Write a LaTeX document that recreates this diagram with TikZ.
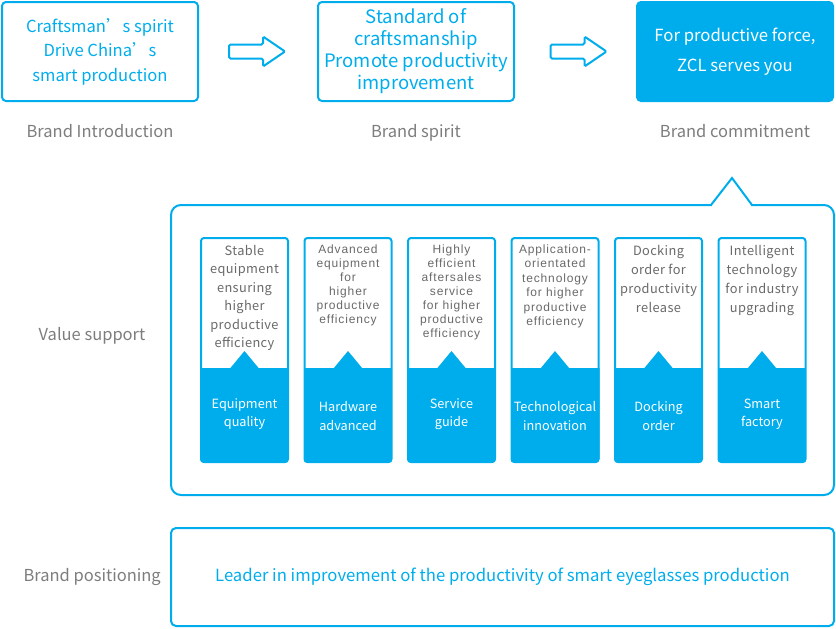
\documentclass[tikz,border=0pt]{standalone}
\usepackage{fontspec}
\setmainfont{Noto Sans CJK SC}
\newfontfamily\cardfont[LetterSpace=7]{Liberation Sans}
\newfontfamily\cardwide[LetterSpace=3]{Noto Sans CJK SC}
\usetikzlibrary{positioning,calc}
\definecolor{zcl}{RGB}{0,173,236}
\definecolor{capgray}{RGB}{125,125,125}
\definecolor{cardgray}{RGB}{105,105,105}
\tikzset{
    hollowarrow/.pic={\draw[zcl, line width=2pt, rounded corners=1.5pt] (-28,-7) -- (6,-7) -- (6,-15) -- (28,0) -- (6,15) -- (6,7) -- (-28,7) -- cycle;}
}
\begin{document}
\begin{tikzpicture}[x=1pt, y=-1pt,
    topbox/.style = {draw=zcl, line width=2pt, rounded corners=4pt, minimum width=196pt, minimum height=99pt, inner sep=0pt, align=center, text=zcl},
    caption/.style = {text=capgray, inner sep=0pt, font=\fontsize{16.5}{20}\selectfont},
    frame/.style = {draw=zcl, line width=2pt, minimum width=663pt, inner sep=0pt},
    card/.style = {draw=zcl, line width=2pt, rounded corners=3pt, minimum width=87pt, minimum height=224pt, inner sep=0pt},
    cardtext/.style = {text=cardgray, align=center, inner sep=0pt},
    cardlabel/.style = {text=white, align=center, inner sep=0pt, font=\fontsize{12.7}{18.5}\selectfont}]
    \useasboundingbox (0,0) rectangle (836,629);
    % top row
    \node[topbox, font=\fontsize{16.6}{24.5}\selectfont] (intro) at (100,51.5) {Craftsman’s spirit\\Drive China’s\\smart production};
    \node[topbox, font=\fontsize{18.5}{22}\selectfont, right=118pt of intro] (spirit) {Standard of\\craftsmanship\\Promote productivity\\improvement};
    \node[topbox, fill=zcl, text=white, font=\fontsize{16.7}{30}\selectfont, right=121pt of spirit] (promise) {For productive force,\\ZCL serves you};
    \node[caption, below=22pt of intro] (introcap) {Brand Introduction};
    \node[caption, below=22pt of spirit] (spiritcap) {Brand spirit};
    \node[caption, below=22pt of promise] (promisecap) {Brand commitment};
    \pic at ($(intro.east)!0.5!(spirit.west)+(-1,0)$) {hollowarrow};
    \pic at ($(spirit.east)!0.5!(promise.west)+(3,0)$) {hollowarrow};
    % value support frame
    \node[frame, rounded corners=10pt, minimum height=290pt] (support) at (502.5,350) {};
    \fill[white] (712,203) rectangle (751,207.5);
    \draw[zcl, line width=2pt] (711,205) -- (732,178) -- (752,205);
    \node[caption] (supportcap) at (92,336) {Value support};
    % cards
    \node[card] (equip) at (244.5,350) {};
    \node[card, right=14.5pt of equip] (hardware) {};
    \node[card, right=14.5pt of hardware] (service) {};
    \node[card, right=14.5pt of service] (techno) {};
    \node[card, right=14.5pt of techno] (docking) {};
    \node[card, right=14.5pt of docking] (factory) {};
    \foreach \c in {equip,hardware,service,techno,docking,factory}{
        \begin{scope}
            \clip[rounded corners=4pt] (\c.north west) rectangle (\c.south east);
            \coordinate (base) at ($(\c.south)+(0,-95)$);
            \fill[zcl] (\c.south west) rectangle (base -| \c.east);
            \fill[zcl] ($(base)+(-14.5,0.5)$) -- ($(base)+(0,-17)$) -- ($(base)+(14.5,0.5)$) -- cycle;
        \end{scope}
    }
    \node[cardtext, font=\cardwide\fontsize{12.8}{18.5}\selectfont, below=8pt of equip.north] (equiptext) {Stable\\equipment\\ensuring\\higher\\productive\\efficiency};
    \node[cardtext, font=\cardfont\fontsize{12}{14}\selectfont, below=7.5pt of hardware.north] (hardwaretext) {Advanced\\equipment\\for\\higher\\productive\\efficiency};
    \node[cardtext, font=\cardfont\fontsize{12}{14}\selectfont, below=7.5pt of service.north] (servicetext) {Highly\\efficient\\aftersales\\service\\for higher\\productive\\efficiency};
    \node[cardtext, font=\cardfont\fontsize{12}{14.5}\selectfont, below=7.5pt of techno.north] (technotext) {Application-\\orientated\\technology\\for higher\\productive\\efficiency};
    \node[cardtext, font=\cardwide\fontsize{12.8}{19}\selectfont, below=8pt of docking.north] (dockingtext) {Docking\\order for\\productivity\\release};
    \node[cardtext, font=\cardwide\fontsize{12.8}{19}\selectfont, below=8pt of factory.north] (factorytext) {Intelligent\\technology\\for industry\\upgrading};
    \node[cardlabel] (equiplabel) at ($(equip.south)+(0,-49)$) {Equipment\\quality};
    \node[cardlabel] (hardwarelabel) at ($(hardware.south)+(0,-47)$) {Hardware\\advanced};
    \node[cardlabel] (servicelabel) at ($(service.south)+(0,-49)$) {Service\\guide};
    \node[cardlabel] (technolabel) at ($(techno.south)+(0,-47)$) {Technological\\innovation};
    \node[cardlabel] (dockinglabel) at ($(docking.south)+(0,-47)$) {Docking\\order};
    \node[cardlabel] (factorylabel) at ($(factory.south)+(0,-49)$) {Smart\\factory};
    % positioning
    \node[frame, rounded corners=5pt, minimum height=98pt, text=zcl, font=\fontsize{16.7}{20}\selectfont] (leader) at (502.5,577) {Leader in improvement of the productivity of smart eyeglasses production};
    \node[caption, left=9pt of leader] (leadercap) {Brand positioning};
\end{tikzpicture}
\end{document}
